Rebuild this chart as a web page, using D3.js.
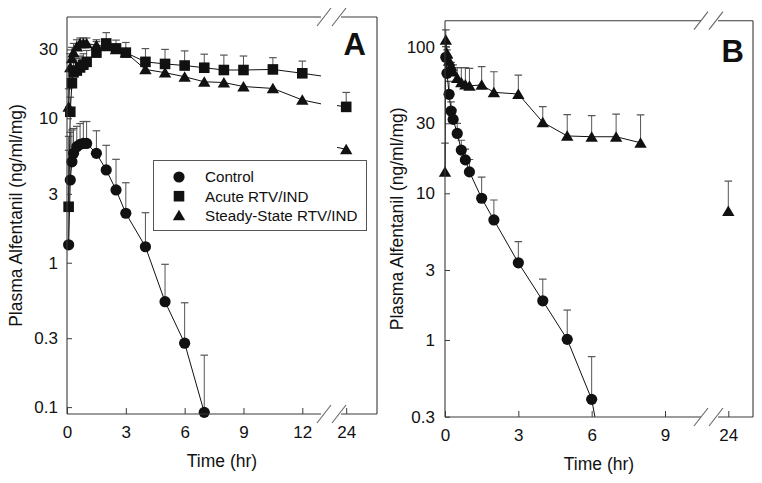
<!DOCTYPE html>
<html><head><meta charset="utf-8">
<script src="https://cdn.jsdelivr.net/npm/d3@7"></script>
<style>
html,body{margin:0;padding:0;background:#fff;}
svg{display:block;font-family:"Liberation Sans",Arial,sans-serif;}
</style></head>
<body><svg id="chart" width="762" height="483"></svg>
<script>
// ---------------- DATA ----------------
const seriesNames = ["Control", "Acute RTV/IND", "Steady-State RTV/IND"];

// Panel A
const timeA = [0.083, 0.167, 0.25, 0.333, 0.5, 0.667, 0.833, 1, 1.5, 2, 2.5, 3, 4, 5, 6, 7, 8, 9, 10.5, 12, 24];
const controlA      = [1.33, 3.74, 5.0, 5.72, 6.36, 6.6, 6.7, 6.7, 5.72, 4.39, 3.19, 2.2, 1.29, 0.537, 0.277, 0.092];
const controlA_up   = [7.5, 8.0, 8.3, 8.5, 8.8, 9.2, 9.5, 9.5, 8.2, 6.5, 5.2, 3.58, 2.22, 0.975, 0.528, 0.229];
const acuteA        = [2.44, 11.1, 17.5, 20.8, 21.4, 22.5, 23.5, 24.6, 28.5, 33.0, 30.5, 28.5, 24.6, 23.8, 23.2, 22.4, 21.6, 21.6, 21.8, 20.5, 12.0];
const acuteA_up     = [6.0, 14, 21, 25, 26, 27, 28, 29.5, 34, 39.2, 34.8, 33.5, 30.4, 30.0, 29.3, 27.8, 27.4, 27.0, 26.3, 24.9, 15.1];
const steadyA       = [12.0, 22.5, 26.0, 28.5, 31.4, 33.0, 33.0, 33.0, 32.0, 31.5, 30.0, 28.5, 21.8, 20.7, 19.4, 17.9, 17.7, 16.6, 16.1, 13.4, 6.10];
const steadyA_up    = [16, 28, 31, 33, 35, 36, 36, 36, 35, null, null, null, null, null, null, null, null, null, null, null, null];

// Panel B
const timeB_control = [0.033, 0.083, 0.167, 0.25, 0.333, 0.5, 0.667, 0.833, 1, 1.5, 2, 3, 4, 5, 6, 7];
const controlB      = [84.6, 65.8, 47.3, 36.4, 31.9, 25.6, 19.7, 16.9, 14.0, 9.25, 6.58, 3.36, 1.85, 1.01, 0.394, 0.05];
const controlB_up   = [100, 80, 58, 42, 37, 30, 23, 20, 17, 12.9, 9.0, 4.68, 2.60, 1.60, 0.77, null];
const timeB_steady  = [0, 0.033, 0.083, 0.167, 0.25, 0.333, 0.5, 0.667, 0.833, 1, 1.5, 2, 3, 4, 5, 6, 7, 8, 24];
const steadyB       = [14.0, 111, 90, 80, 74, 67.5, 61, 57, 55, 54, 54.8, 48.8, 47.5, 30.5, 24.6, 24.3, 24.3, 22.1, 7.57];
const steadyB_up    = [22, 130, 95, 83, 78, 75, 72, 72, 72, 71, 73, 67.4, 64, 39, 34.4, 33.8, 34.7, 34.2, 12.1];

// Tick labels
const xTicksA = [0, 3, 6, 9, 12, 24];
const xTicksB = [0, 3, 6, 9, 24];
const yTicksA = [0.1, 0.3, 1, 3, 10, 30];
const yTicksB = [0.3, 1, 3, 10, 30, 100];
const xTitle = "Time (hr)";
const yTitle = "Plasma Alfentanil (ng/ml/mg)";

// ---------------- HELPERS ----------------
function makeSeries(times, vals, ups) {
  return vals.map((v, i) => ({t: times[i], v: v, up: ups ? ups[i] : null}));
}
const svg = d3.select("#chart");
const FRAME = "#3a3a3a";
const ERR = "#555";

function markerPath(shape) {
  if (shape === "circle") return d3.symbol(d3.symbolCircle, Math.PI * 5.6 * 5.6)();
  if (shape === "square") return "M-5.3,-5.3H5.3V5.3H-5.3Z";
  return "M0,-5.6L6.2,4.9L-6.2,4.9Z";
}

function drawPanel(cfg) {
  const g = svg.append("g");
  const {x0, x1, yTop, yBot, gapL, gapR} = cfg;
  const xL = d3.scaleLinear().domain(cfg.leftDomain).range(cfg.leftRange);
  const xR = d3.scaleLinear().domain(cfg.rightDomain).range(cfg.rightRange);
  const xAt = t => (t > 20 ? xR(t) : xL(t));
  const y = d3.scaleLog().domain(cfg.yDomain).range([yBot, yTop]);
  const inside = v => v >= cfg.yDomain[0] * 0.98 && v <= cfg.yDomain[1];

  const id = cfg.id;
  const defs = svg.append("defs");
  defs.append("clipPath").attr("id", "all" + id).append("rect")
    .attr("x", x0 - 12).attr("y", yTop).attr("width", x1 - x0 + 24).attr("height", yBot - yTop);
  defs.append("clipPath").attr("id", "left" + id).append("rect")
    .attr("x", x0).attr("y", yTop).attr("width", gapL - x0).attr("height", yBot - yTop);
  defs.append("clipPath").attr("id", "right" + id).append("rect")
    .attr("x", cfg.lineResume).attr("y", yTop).attr("width", x1 - cfg.lineResume).attr("height", yBot - yTop);

  // error bars
  const eg = g.append("g").attr("clip-path", `url(#all${id})`);
  cfg.series.forEach(s => {
    s.data.filter(d => d.up != null && inside(d.v)).forEach(d => {
      const cx = xAt(d.t);
      eg.append("line").attr("x1", cx).attr("x2", cx).attr("y1", y(d.v)).attr("y2", y(d.up))
        .attr("stroke", ERR).attr("stroke-width", 1);
      eg.append("line").attr("x1", cx - 3.8).attr("x2", cx + 3.8).attr("y1", y(d.up)).attr("y2", y(d.up))
        .attr("stroke", ERR).attr("stroke-width", 1.2);
    });
  });

  // lines
  cfg.series.forEach(s => {
    const ld = s.data.filter(d => s.connectLate || d.t < 20);
    const mkLine = xs => d3.line().x(d => xs(d.t)).y(d => y(d.v));
    g.append("path").datum(ld).attr("d", mkLine(xL)).attr("fill", "none")
      .attr("stroke", "#111").attr("stroke-width", 1).attr("clip-path", `url(#left${id})`);
    g.append("path").datum(ld).attr("d", mkLine(xR)).attr("fill", "none")
      .attr("stroke", "#111").attr("stroke-width", 1).attr("clip-path", `url(#right${id})`);
  });

  // markers (only those whose value lies within the axis range)
  const mg = g.append("g");
  cfg.series.forEach(s => {
    mg.selectAll(null).data(s.data.filter(d => inside(d.v))).enter().append("path")
      .attr("d", markerPath(s.shape))
      .attr("transform", d => `translate(${xAt(d.t)},${y(d.v)})`)
      .attr("fill", "#111");
  });

  // frame with axis breaks
  const fr = g.append("g").attr("stroke", FRAME).attr("stroke-width", 1.1).attr("fill", "none");
  fr.append("path").attr("d",
    `M${x0},${yTop}V${yBot}` +
    `M${x1},${yTop}V${yBot}` +
    `M${x0},${yTop}H${gapL}M${gapR},${yTop}H${x1}` +
    `M${x0},${yBot}H${gapL}M${gapR},${yBot}H${x1}`);
  [yTop, yBot].forEach(yy => {
    cfg.slashes.forEach(cx => {
      fr.append("line").attr("x1", cx - 7).attr("y1", yy + 9).attr("x2", cx + 7).attr("y2", yy - 9)
        .attr("stroke", "#666");
    });
  });

  // axes
  const fmt = d3.format("~g");
  const styleAxis = sel => {
    sel.select(".domain").remove();
    sel.selectAll(".tick line").attr("stroke", FRAME);
    sel.selectAll("text").attr("font-size", 17).attr("fill", "#111")
      .attr("font-family", '"Liberation Sans",Arial,sans-serif');
  };
  const tL = cfg.xTicks.filter(t => t < 20), tR = cfg.xTicks.filter(t => t > 20);
  g.append("g").attr("transform", `translate(0,${yBot})`)
    .call(d3.axisBottom(xL).tickValues(tL).tickFormat(fmt).tickSizeInner(-6).tickSizeOuter(0).tickPadding(12))
    .call(styleAxis);
  g.append("g").attr("transform", `translate(0,${yBot})`)
    .call(d3.axisBottom(xR).tickValues(tR).tickFormat(fmt).tickSizeInner(-6).tickSizeOuter(0).tickPadding(12))
    .call(styleAxis);
  g.append("g").attr("transform", `translate(${x0},0)`)
    .call(d3.axisLeft(y).tickValues(cfg.yTicks).tickFormat(fmt).tickSizeInner(-5).tickSizeOuter(0).tickPadding(cfg.yPad))
    .call(styleAxis);

  // titles
  g.append("text").attr("x", (x0 + x1) / 2).attr("y", cfg.xTitleY).attr("text-anchor", "middle")
    .attr("font-size", 17.5).attr("fill", "#111").text(xTitle);
  g.append("text").attr("transform", `translate(${cfg.yTitleX},${(yTop + yBot) / 2}) rotate(-90)`)
    .attr("text-anchor", "middle").attr("font-size", 17.5).attr("fill", "#111").text(yTitle);
  g.append("text").attr("x", cfg.letterX).attr("y", cfg.letterY).attr("text-anchor", "end")
    .attr("font-size", 31).attr("font-weight", "bold").attr("fill", "#111").text(cfg.letter);

  return {g, y};
}

// ---------------- PANEL A ----------------
drawPanel({
  id: "A", letter: "A", letterX: 366, letterY: 55,
  x0: 67, x1: 377, yTop: 17, yBot: 414,
  gapL: 321, gapR: 341, lineResume: 337, slashes: [324, 339],
  leftDomain: [0, 12], leftRange: [67, 302.3],
  rightDomain: [24, 25.6], rightRange: [346.2, 377.5],
  yDomain: [0.0896, 50.3],
  xTicks: xTicksA, yTicks: yTicksA, yPad: 9,
  xTitleY: 467, yTitleX: 22,
  series: [
    {shape: "circle", data: makeSeries(timeA, controlA, controlA_up), connectLate: true},
    {shape: "square", data: makeSeries(timeA, acuteA, acuteA_up), connectLate: true},
    {shape: "triangle", data: makeSeries(timeA, steadyA, steadyA_up), connectLate: true}
  ]
});

// legend in panel A
const lg = svg.append("g");
lg.append("rect").attr("x", 153.5).attr("y", 160.5).attr("width", 213).attr("height", 70)
  .attr("fill", "#fff").attr("stroke", "#555").attr("stroke-width", 1);
const shapes = ["circle", "square", "triangle"];
seriesNames.forEach((name, i) => {
  const yy = 177 + i * 19.2;
  lg.append("path").attr("d", markerPath(shapes[i])).attr("transform", `translate(179,${yy})`).attr("fill", "#111");
  lg.append("text").attr("x", 205).attr("y", yy).attr("dy", "0.36em").attr("font-size", 15.2)
    .attr("fill", "#111").text(name);
});

// ---------------- PANEL B ----------------
drawPanel({
  id: "B", letter: "B", letterX: 744, letterY: 62,
  x0: 445, x1: 753, yTop: 20.7, yBot: 417,
  gapL: 701, gapR: 718, lineResume: 716, slashes: [701, 716],
  leftDomain: [0, 9], leftRange: [445, 665],
  rightDomain: [24, 25], rightRange: [728.3, 752.7],
  yDomain: [0.2986, 150.2],
  xTicks: xTicksB, yTicks: yTicksB, yPad: 10,
  xTitleY: 470, yTitleX: 403,
  series: [
    {shape: "circle", data: makeSeries(timeB_control, controlB, controlB_up), connectLate: false},
    {shape: "triangle", data: makeSeries(timeB_steady, steadyB, steadyB_up), connectLate: false}
  ]
});
</script></body></html>
